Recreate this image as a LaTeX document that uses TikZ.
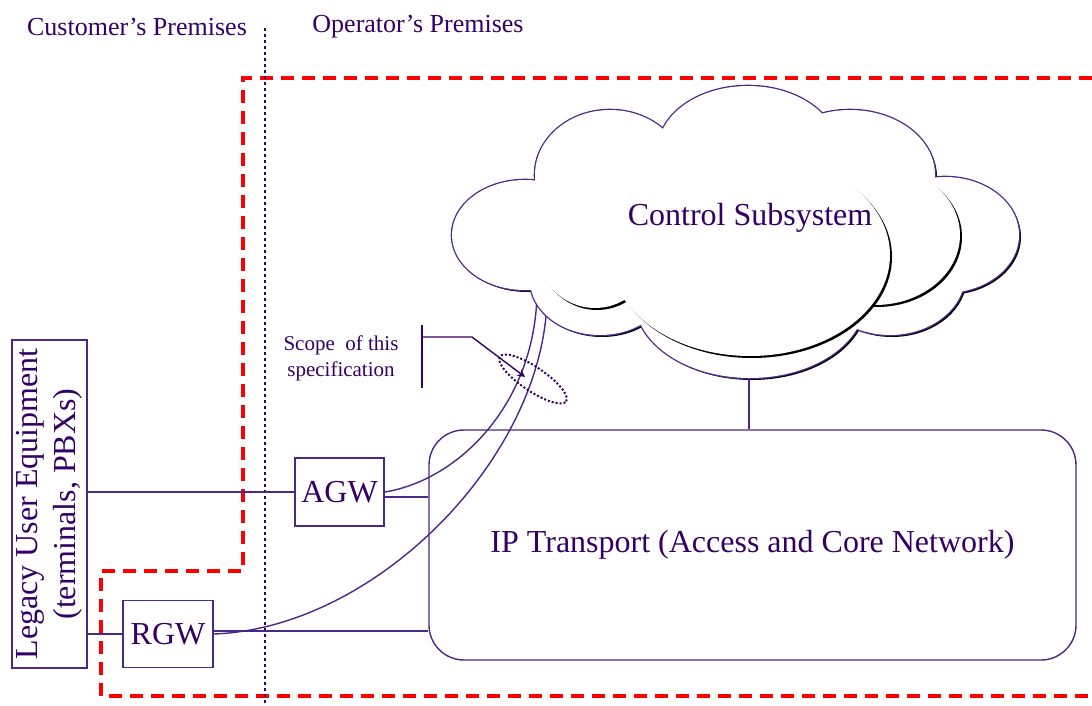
\documentclass[tikz,border=0pt]{standalone}
\usepackage{fontspec}
\setmainfont{Liberation Serif}
\usetikzlibrary{positioning,calc}
\usetikzlibrary{arrows}
\usetikzlibrary{shapes.geometric}

\definecolor{ink}{RGB}{51,0,102}
\definecolor{edge}{RGB}{75,40,135}
\definecolor{scopered}{RGB}{255,0,0}

\begin{document}
\begin{tikzpicture}[x=0.5pt, y=-0.5pt, >=stealth, line width=0.7pt,
    box/.style = {draw = edge, text = ink, inner sep = 0pt, font = \fontsize{16}{19}\selectfont},
    premises/.style = {text = ink, font = \fontsize{13}{15}\selectfont},
]
    \useasboundingbox (0, 0) rectangle (1092, 706);

    % lobes of the cloud: x/y/rx/ry
    \def\outerlobes{525/235/73/55, 610/175/75/65, 748/150/90/64, 850/175/85/65, 945/235/74/58,
                    890/275/75/60, 750/300/115/78, 600/280/70/55, 735/232/200/95}
    \def\midlobes{875/235/85/70}
    \def\frontlobes{750/255/140/101, 595/245/60/63}

    % scope boundary and premises split
    \draw [scopered, line width = 1.7pt, dash pattern = on 6.5pt off 4pt]
        (1092, 78) -- (243, 78) -- (243, 571) -- (101, 571) -- (101, 696) -- (1092, 696);
    \draw [ink, line width = 1.1pt, dash pattern = on 1.5pt off 1.5pt] (265, 28) -- (265, 706);

    \node [premises] (cust) at (137, 27) {Customer's Premises};
    \node [premises] (oper) at (418, 27) {Operator's Premises};

    % boxes
    \node [box, rotate = 90, minimum width = 164pt, minimum height = 37.5pt, align = center] (leg) at (49.5, 504)
        {Legacy User Equipment\\(terminals, PBXs)};
    \node [box, minimum width = 44.5pt, minimum height = 34pt] (agw) at (339.5, 492) {AGW};
    \node [box, minimum width = 45pt, minimum height = 33.5pt] (rgw) at (168, 634) {RGW};
    \node [box, rounded corners = 17.5pt, minimum width = 323.5pt, minimum height = 115pt] (ip) at (752.5, 545)
        {IP Transport (Access and Core Network)};

    \draw [edge] (leg.south |- agw.west) -- (agw.west);
    \draw [edge] (leg.south |- rgw.west) -- (rgw.west);
    \draw [edge] ([yshift = -2.5pt] agw.east) -- ([yshift = -2.5pt] agw.east -| ip.west);
    \draw [edge] ([yshift = 1.5pt] rgw.east) -- ([yshift = 1.5pt] rgw.east -| ip.west);

    % signalling paths up into the cloud
    \coordinate (ctlA) at (537, 282);
    \coordinate (ctlB) at (547, 290);
    \draw [edge] (agw.east) .. controls (460, 480) and (540, 400) .. (ctlA);
    \draw [edge] (rgw.east) .. controls (380, 628) and (550, 450) .. (ctlB);

    % control subsystem: outline, then the two inner layers
    \foreach \cx/\cy/\rx/\ry in \outerlobes
        \fill [black] (\cx + 2, \cy + 2) ellipse [x radius = \rx, y radius = \ry];
    \foreach \cx/\cy/\rx/\ry in \outerlobes
        \draw [edge, line width = 1.3pt, fill = white] (\cx, \cy) ellipse [x radius = \rx, y radius = \ry];
    \foreach \cx/\cy/\rx/\ry in \outerlobes
        \fill [white] (\cx, \cy) ellipse [x radius = \rx, y radius = \ry];
    \foreach \cx/\cy/\rx/\ry in \midlobes {
        \fill [black] (\cx + 2, \cy + 2) ellipse [x radius = \rx, y radius = \ry];
        \fill [white] (\cx, \cy) ellipse [x radius = \rx, y radius = \ry];
    }
    \foreach \cx/\cy/\rx/\ry in \frontlobes
        \fill [black] (\cx + 2, \cy + 2) ellipse [x radius = \rx, y radius = \ry];
    \foreach \cx/\cy/\rx/\ry in \frontlobes
        \fill [white] (\cx, \cy) ellipse [x radius = \rx, y radius = \ry];
    \node [text = ink, font = \fontsize{16}{19}\selectfont] (ctrl) at (750, 218) {Control Subsystem};

    \coordinate (cb) at (749, 378);
    \draw [edge] (cb) -- (cb |- ip.north);

    % scope annotation
    \node [text = ink, font = \fontsize{10.5}{13}\selectfont, align = center] (scopetxt) at (341, 358)
        {Scope\ \ of this\\specification};
    \coordinate (brk) at (422, 337);
    \coordinate (tip) at (525, 377);
    \draw [ink] (422, 325) -- (422, 388);
    \draw [ink, ->] (brk) -- (472, 337) -- (tip);
    \node [ellipse, draw = ink, densely dotted, line width = 1pt, minimum width = 40pt, minimum height = 12pt,
           rotate = -34] (iface) at (533, 379) {};

\end{tikzpicture}
\end{document}
